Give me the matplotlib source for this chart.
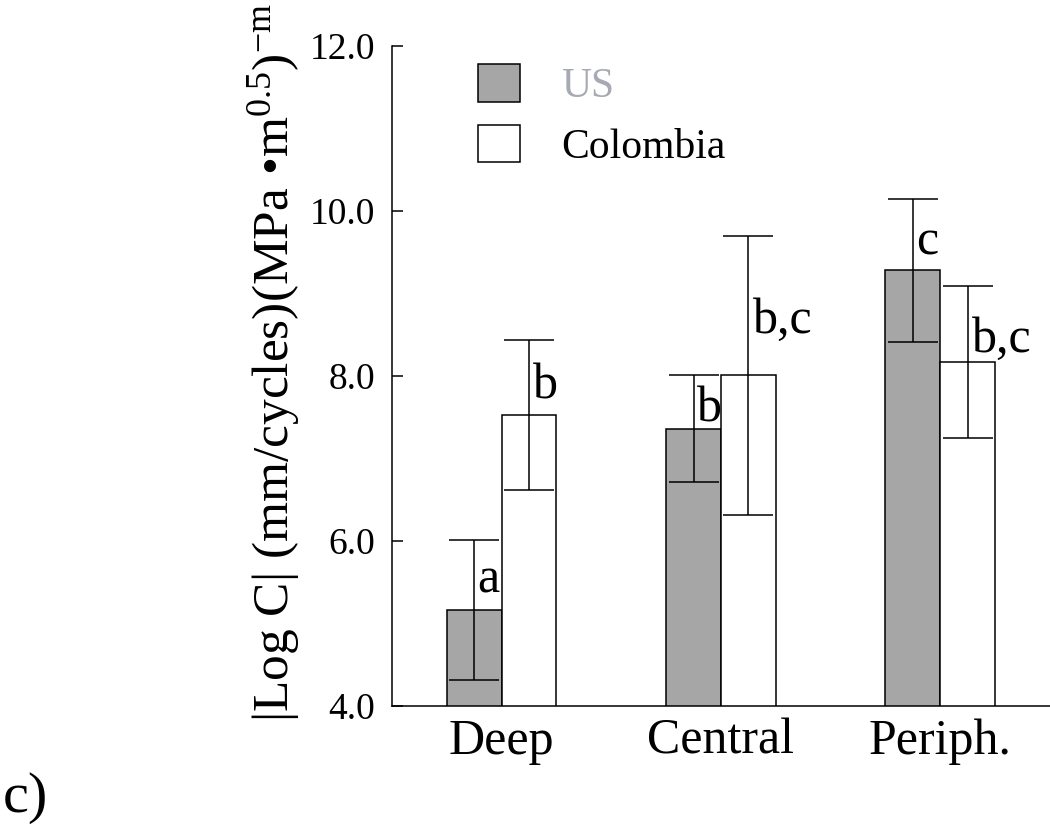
import matplotlib
matplotlib.use("Agg")
import matplotlib.pyplot as plt
from matplotlib.patches import Patch
import numpy as np

plt.rcParams['font.family'] = ['Liberation Serif', 'DejaVu Serif']
plt.rcParams['mathtext.fontset'] = 'custom'
plt.rcParams['mathtext.rm'] = 'Liberation Serif'
plt.rcParams['mathtext.it'] = 'Liberation Serif:italic'

# data
zones = ['Deep', 'Central', 'Periph.']
us_mean = [5.16, 7.36, 9.28]
us_err = [0.85, 0.65, 0.87]
col_mean = [7.53, 8.01, 8.17]
col_err = [0.91, 1.69, 0.92]
us_letters = ['a', 'b', 'c']
col_letters = ['b', 'b,c', 'b,c']
us_letter_y = [5.37, 7.45, 9.47]
col_letter_y = [7.73, 8.52, 8.29]

fig = plt.figure(figsize=(10.5, 8.26), dpi=100)
ax = fig.add_axes([0.3733, 0.1453, 0.6267, 0.799])

x = np.arange(len(zones))
w = 0.25
ebar = dict(ecolor='black', elinewidth=1.1, capsize=18, capthick=1.1)
ax.bar(x - w/2, us_mean, w, color='#a6a6a6', edgecolor='black',
       linewidth=1.1, yerr=us_err, error_kw=ebar)
ax.bar(x + w/2, col_mean, w, color='white', edgecolor='black',
       linewidth=1.1, yerr=col_err, error_kw=ebar)

for i in range(len(zones)):
    ax.text(x[i] - w/2 + 0.015, us_letter_y[i], us_letters[i], fontsize=36,
            ha='left', va='baseline')
    ax.text(x[i] + w/2 + 0.02, col_letter_y[i], col_letters[i], fontsize=36,
            ha='left', va='baseline')

ax.set_xlim(-0.5, 2.5)
ax.set_ylim(4, 12)
ax.set_yticks([4, 6, 8, 10, 12])
ax.set_yticklabels(['%.1f' % v for v in [4, 6, 8, 10, 12]])
ax.set_xticks(x)
ax.set_xticklabels(zones)
ax.tick_params(axis='y', direction='in', length=8, width=1.1, labelsize=27, pad=12)
ax.tick_params(axis='x', length=0, labelsize=36, pad=9)
for s in ['top', 'right']:
    ax.spines[s].set_visible(False)
for s in ['left', 'bottom']:
    ax.spines[s].set_linewidth(1.1)

ax.set_ylabel(r'|Log C| (mm/cycles)(MPa •m$^{0.5}$)$^{\mathrm{-m}}$', fontsize=37)
ax.yaxis.set_label_coords(-0.137, 0.52)

handles = [Patch(facecolor='#a6a6a6', edgecolor='black', linewidth=1.1),
           Patch(facecolor='white', edgecolor='black', linewidth=1.1)]
leg = ax.legend(handles, ['US', 'Colombia'], loc='upper left',
                bbox_to_anchor=(0.1307, 0.972), frameon=False, fontsize=30,
                handlelength=1.0, handleheight=1.0, handletextpad=1.0,
                labelspacing=0.45, borderpad=0, borderaxespad=0)
leg.get_texts()[0].set_color('#a7a9b4')

fig.text(0.003, 0.017, 'c)', fontsize=42, ha='left', va='baseline')

fig.savefig('out.png', dpi=100)
